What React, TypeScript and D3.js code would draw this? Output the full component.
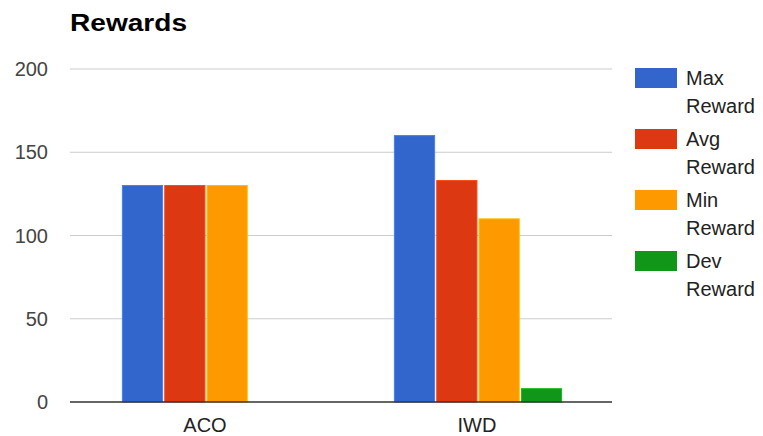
import React from "react";
import * as d3 from "d3";

const categories = ["ACO", "IWD"];
const seriesNames = ["Max Reward", "Avg Reward", "Min Reward", "Dev Reward"];
const maxReward = [130, 160];
const avgReward = [130, 133];
const minReward = [130, 110];
const devReward = [0, 8];
const seriesColors = ["#3366cc", "#dc3912", "#ff9900", "#109618"];
const yTicks = [0, 50, 100, 150, 200];
const title = "Rewards";

const W = 763;
const H = 436;
const left = 70;
const right = 612;
const top = 69;
const bottom = 402;

export default function App() {
  const seriesValues = [maxReward, avgReward, minReward, devReward];
  const x = d3.scaleBand<string>().domain(categories).range([left, right + 2]).padding(0);
  const y = d3.scaleLinear().domain([0, 200]).range([bottom, top]);
  const groupW = 167.2;
  const inner = d3
    .scaleBand<number>()
    .domain(d3.range(seriesNames.length))
    .range([0, groupW])
    .paddingInner(0.05);

  return (
    <svg
      width={W}
      height={H}
      style={{ position: "absolute", left: 0, top: 0, background: "#fff" }}
      fontFamily="'Liberation Sans', Arial, sans-serif"
    >
      <rect x={0} y={0} width={W} height={H} fill="#fff" />
      <text x={70} y={31} fontSize={23} fontWeight="bold" fill="#000" textLength={117} lengthAdjust="spacingAndGlyphs">
        {title}
      </text>
      {yTicks.map((t) => (
        <g key={t}>
          {t !== 0 && (
            <line x1={left} x2={right} y1={y(t)} y2={y(t)} stroke="#cccccc" strokeWidth={1} />
          )}
          <text
            x={48}
            y={y(t)}
            textAnchor="end"
            dominantBaseline="central"
            fontSize={20}
            fill="#444444"
          >
            {t}
          </text>
        </g>
      ))}
      {categories.map((c, ci) => {
        const cx = (x(c) as number) + x.bandwidth() / 2;
        const gx = cx - groupW / 2;
        return (
          <g key={c}>
            {seriesValues.map((vals, si) => {
              const v = vals[ci];
              if (v <= 0) return null;
              const bx = gx + (inner(si) as number);
              return (
                <rect
                  key={si}
                  x={bx}
                  y={y(v)}
                  width={inner.bandwidth()}
                  height={y(0) - y(v)}
                  fill={seriesColors[si]}
                  stroke={d3.color(seriesColors[si])!.brighter(0.6).toString()}
                  strokeWidth={1}
                />
              );
            })}
            <text
              x={cx - 1}
              y={425}
              textAnchor="middle"
              dominantBaseline="central"
              fontSize={20}
              fill="#222222"
            >
              {c}
            </text>
          </g>
        );
      })}
      <line x1={left} x2={right} y1={y(0)} y2={y(0)} stroke="#333333" strokeWidth={1.5} />
      {seriesNames.map((name, i) => {
        const ty = 68 + i * 61;
        const words = name.split(" ");
        return (
          <g key={name}>
            <rect x={635} y={ty} width={42} height={20} fill={seriesColors[i]} />
            {words.map((w, wi) => (
              <text key={wi} x={686} y={ty + 17 + wi * 28} fontSize={20} fill="#222222">
                {w}
              </text>
            ))}
          </g>
        );
      })}
    </svg>
  );
}
